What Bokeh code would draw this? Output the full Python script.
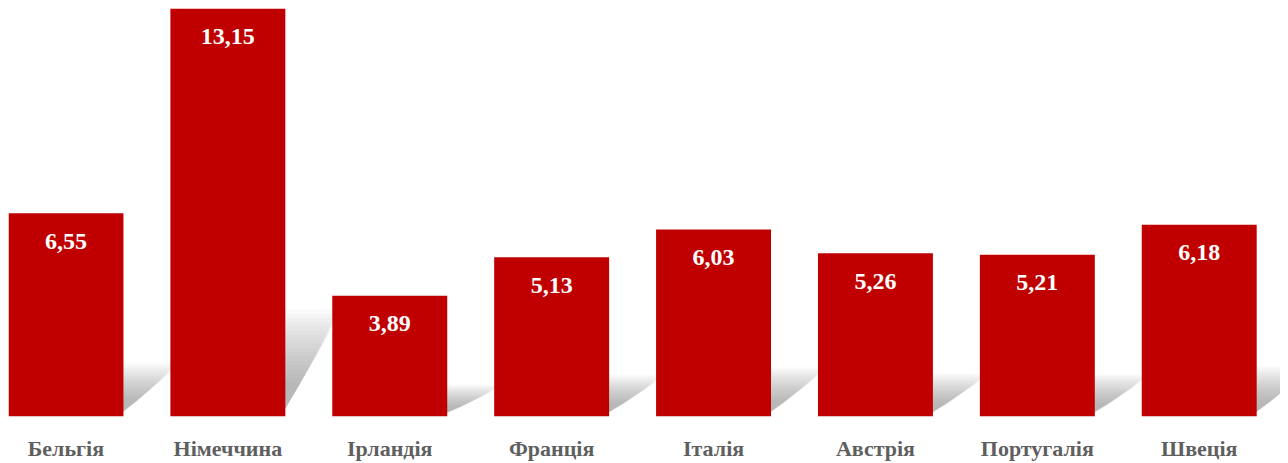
import numpy as np
from bokeh.plotting import figure
from bokeh.models import Range1d, FixedTicker, ColumnDataSource
from bokeh.core.properties import value
from bokeh.embed import file_html
from bokeh.resources import INLINE

countries = ["Бельгія", "Німеччина", "Ірландія", "Франція", "Італія", "Австрія", "Португалія", "Швеція"]
values = [6.55, 13.15, 3.89, 5.13, 6.03, 5.26, 5.21, 6.18]
labels = [f"{v:.2f}".replace(".", ",") for v in values]

xs = list(range(len(countries)))
bar_w = 0.71

p = figure(width=1280, height=463, output_backend="svg", toolbar_location=None,
           x_range=Range1d(-0.355, 7.502), y_range=Range1d(0, 13.15),
           min_border_left=8, min_border_right=0, min_border_top=8, min_border_bottom=47)

# soft shadows cast by bars (derived from values)
n = 18
for k in range(n):
    f = 0.40 + 0.05 * k
    sx, sy = [], []
    for x, v in zip(xs, values):
        h = 0.21 * v * f
        dx = 0.28 * f
        l, r = x - bar_w / 2 + 0.05, x + bar_w / 2 - 0.02
        sx.append([l, r, r + dx * 0.85, r + dx, l + dx])
        sy.append([0.08, 0.08, h * 0.8, h, h])
    p.patches(sx, sy, fill_color="#8a8a8a", fill_alpha=0.038, line_color=None)

src = ColumnDataSource(dict(x=xs, top=values, lab=labels))
p.vbar(x="x", top="top", width=bar_w, bottom=0, source=src,
       fill_color="#C00000", line_color=None)
p.text(x="x", y="top", text="lab", source=src, text_align="center", text_baseline="middle",
       y_offset=28, text_color="white", text_font=value("Liberation Serif"),
       text_font_style="bold", text_font_size="24px")

p.xaxis.ticker = FixedTicker(ticks=xs)
p.xaxis.major_label_overrides = {x: c for x, c in zip(xs, countries)}
p.xaxis.axis_line_color = None
p.xaxis.major_tick_line_color = None
p.xaxis.minor_tick_line_color = None
p.xaxis.major_tick_out = 0
p.xaxis.major_tick_in = 0
p.xaxis.major_label_standoff = 19
p.xaxis.major_label_text_font = "Liberation Serif"
p.xaxis.major_label_text_font_style = "bold"
p.xaxis.major_label_text_font_size = "22px"
p.xaxis.major_label_text_color = "#5f5f5f"
p.yaxis.visible = False
p.grid.visible = False
p.outline_line_color = None

open("out.html", "w").write(file_html(p, INLINE))
